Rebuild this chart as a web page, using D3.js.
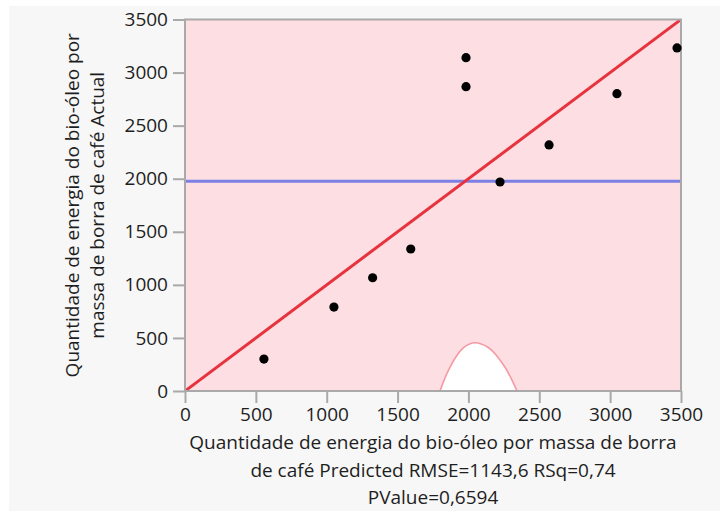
<!DOCTYPE html>
<html>
<head>
<meta charset="utf-8">
<script src="https://cdn.jsdelivr.net/npm/d3@7"></script>
<style>
  html, body { margin: 0; padding: 0; background: #ffffff; }
  svg { display: block; }
  text { font-family: "Open Sans", "Noto Sans", sans-serif; fill: #1e1e1e; }
</style>
</head>
<body>
<svg id="chart" width="720" height="511"></svg>
<script>
// ---- data ----
const predicted = [557, 1051, 1324, 1593, 1983, 1983, 2223, 2569, 3048, 3472];
const actual    = [301, 791, 1067, 1338, 3140, 2867, 1969, 2318, 2801, 3232];
const meanActual = 1975;
const tickValues = [0, 500, 1000, 1500, 2000, 2500, 3000, 3500];
const curveX = [1799, 1832, 1871, 1922, 1968, 2046, 2140, 2194, 2256, 2303, 2343];
const curveY = [0, 114, 228, 341, 410, 455, 410, 341, 228, 114, 0];
const xTitleLines = [
  "Quantidade de energia do bio-óleo por massa de borra",
  "de café Predicted RMSE=1143,6 RSq=0,74",
  "PValue=0,6594"
];
const yTitleLines = [
  "Quantidade de energia do bio-óleo por",
  "massa de borra de café Actual"
];

// ---- layout ----
const svg = d3.select("#chart");
const L = 185, R = 681, T = 19.5, B = 391;
const x = d3.scaleLinear().domain([0, 3500]).range([L, R]);
const y = d3.scaleLinear().domain([0, 3500]).range([B, T]);

// panel background
svg.append("rect").attr("x", 9).attr("y", 6).attr("width", 711).attr("height", 505)
  .attr("fill", "#f7f7f7");

// plot background
svg.append("rect").attr("x", L).attr("y", T).attr("width", R - L).attr("height", B - T)
  .attr("fill", "#fddfe3");

// clip
svg.append("clipPath").attr("id", "clip").append("rect")
  .attr("x", L).attr("y", T).attr("width", R - L).attr("height", B - T);
const g = svg.append("g").attr("clip-path", "url(#clip)");

// confidence curve region
const curvePts = curveX.map((v, i) => [v, curveY[i]]);
g.append("path")
  .datum(curvePts)
  .attr("d", d3.line().x(d => x(d[0])).y(d => y(d[1])).curve(d3.curveNatural))
  .attr("fill", "#ffffff")
  .attr("stroke", "#f59aa4")
  .attr("stroke-width", 1.6);

// mean line
g.append("line")
  .attr("x1", x(0)).attr("x2", x(3500))
  .attr("y1", y(meanActual)).attr("y2", y(meanActual))
  .attr("stroke", "#7c80e4").attr("stroke-width", 3);

// fit line y = x
g.append("line")
  .attr("x1", x(0)).attr("y1", y(0)).attr("x2", x(3500)).attr("y2", y(3500))
  .attr("stroke", "#e8333f").attr("stroke-width", 3);

// frame
svg.append("rect").attr("x", L).attr("y", T).attr("width", R - L).attr("height", B - T)
  .attr("fill", "none").attr("stroke", "#a9a9a9").attr("stroke-width", 2);

// points
svg.append("g").selectAll("circle")
  .data(predicted.map((p, i) => [p, actual[i]]))
  .join("circle")
  .attr("cx", d => x(d[0])).attr("cy", d => y(d[1])).attr("r", 4.6)
  .attr("fill", "#000");

// axes
const yAxis = svg.append("g").attr("transform", `translate(${L},0)`)
  .call(d3.axisLeft(y).tickValues(tickValues).tickSize(12).tickPadding(5).tickFormat(d3.format("d")));
const xAxis = svg.append("g").attr("transform", `translate(0,${B})`)
  .call(d3.axisBottom(x).tickValues(tickValues).tickSize(12).tickPadding(5).tickFormat(d3.format("d")));
[yAxis, xAxis].forEach(a => {
  a.select(".domain").remove();
  a.selectAll(".tick line").attr("stroke", "#a9a9a9").attr("stroke-width", 2);
  a.selectAll(".tick text").attr("font-size", 19).attr("font-family", null).style("fill", "#1e1e1e");
});

// x title
const xt = svg.append("text").attr("text-anchor", "middle").attr("font-size", 19);
xTitleLines.forEach((t, i) => {
  xt.append("tspan").attr("x", (L + R) / 2).attr("y", 449 + i * 27.5).text(t);
});

// y title
yTitleLines.forEach((t, i) => {
  svg.append("text")
    .attr("text-anchor", "middle").attr("font-size", 19)
    .attr("transform", `translate(${72 + i * 25},${(T + B) / 2}) rotate(-90)`)
    .attr("dy", "0.35em")
    .text(t);
});
</script>
</body>
</html>
